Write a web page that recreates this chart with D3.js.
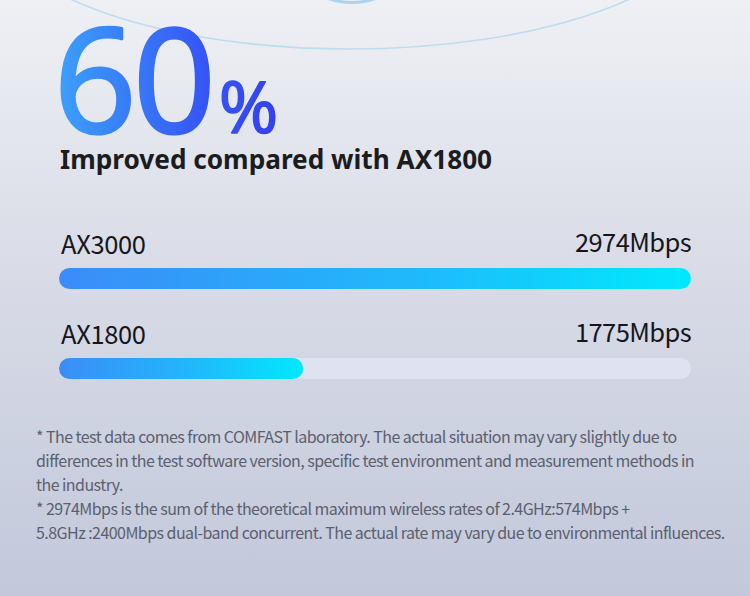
<!DOCTYPE html>
<html>
<head>
<meta charset="utf-8">
<script src="https://cdn.jsdelivr.net/npm/d3@7"></script>
<style>
html,body{margin:0;padding:0;background:#e4e6ee;}
svg{display:block;}
</style>
</head>
<body>
<svg id="chart" width="750" height="596"></svg>
<script>
// ---- data ----
const categories = ["AX3000", "AX1800"];
const speeds = [2974, 1775];
const valueLabels = ["2974Mbps", "1775Mbps"];
const headline = "60";
const headlineUnit = "%";
const subtitle = "Improved compared with AX1800";
const footnotes = [
  "* The test data comes from COMFAST laboratory. The actual situation may vary slightly due to",
  "differences in the test software version, specific test environment and measurement methods in",
  "the industry.",
  "* 2974Mbps is the sum of the theoretical maximum wireless rates of 2.4GHz:574Mbps +",
  "5.8GHz :2400Mbps dual-band concurrent. The actual rate may vary due to environmental influences."
];
const axisDomain = [1020, 2974];

// ---- drawing ----
const W = 750, H = 596;
const svg = d3.select("#chart");
const defs = svg.append("defs");

const bg = defs.append("linearGradient").attr("id","bg").attr("x1",0).attr("y1",0).attr("x2",0).attr("y2",1);
bg.append("stop").attr("offset","0%").attr("stop-color","#eef0f4");
bg.append("stop").attr("offset","45%").attr("stop-color","#d9dce7");
bg.append("stop").attr("offset","100%").attr("stop-color","#c2c8db");
svg.append("rect").attr("width",W).attr("height",H).attr("fill","url(#bg)");

// decorative arcs
svg.append("ellipse").attr("cx",350).attr("cy",-86).attr("rx",360).attr("ry",135)
  .attr("fill","none").attr("stroke","#bfdcee").attr("stroke-width",1.6);
svg.append("ellipse").attr("cx",352).attr("cy",-86).attr("rx",80).attr("ry",88.5)
  .attr("fill","none").attr("stroke","#a9d3ef").attr("stroke-width",3);

// headline gradient
const hg = defs.append("linearGradient").attr("id","hg").attr("gradientUnits","userSpaceOnUse")
  .attr("x1",57).attr("y1",0).attr("x2",280).attr("y2",0);
hg.append("stop").attr("offset","0%").attr("stop-color","#3ca0fb");
hg.append("stop").attr("offset","65%").attr("stop-color","#3557f6");
hg.append("stop").attr("offset","100%").attr("stop-color","#3440ee");

const head = svg.append("text").attr("x",54).attr("y",133)
  .attr("font-family","'Open Sans', 'Noto Sans', sans-serif").attr("fill","url(#hg)")
  .attr("stroke","url(#hg)").attr("stroke-linejoin","round");
head.append("tspan").attr("font-size",144).attr("stroke-width",3.2).attr("letter-spacing",-3).text(headline);
head.append("tspan").attr("font-size",72).attr("stroke-width",1.6).attr("dx",6).text(headlineUnit);

svg.append("text").attr("x",60).attr("y",169)
  .attr("font-family","'Noto Sans', 'Open Sans', sans-serif").attr("font-weight",700)
  .attr("font-size",26.2).attr("fill","#1b1c20").text(subtitle);

// bars
const x = d3.scaleLinear().domain(axisDomain).range([59, 691]).clamp(true);
const y = d3.scaleBand().domain(categories).range([230, 410]).paddingInner(0).paddingOuter(0);
const barH = 21;

const bgGrad = defs.selectAll("linearGradient.bar").data(categories).join("linearGradient")
  .attr("class","bar").attr("id",(d,i)=>"bar"+i).attr("gradientUnits","userSpaceOnUse")
  .attr("x1",x.range()[0]).attr("y1",0).attr("x2",(d,i)=>x(speeds[i])).attr("y2",0);
bgGrad.append("stop").attr("offset","0%").attr("stop-color","#3b8cf8");
bgGrad.append("stop").attr("offset","55%").attr("stop-color","#20b8fb");
bgGrad.append("stop").attr("offset","100%").attr("stop-color","#00e9fd");

const rows = svg.selectAll("g.row").data(categories).join("g").attr("class","row")
  .attr("transform",d=>`translate(0,${y(d)})`);

rows.append("rect").attr("x",x.range()[0]).attr("y",38).attr("height",barH)
  .attr("width",x.range()[1]-x.range()[0]).attr("rx",barH/2).attr("fill","#dfe2f0");
rows.append("rect").attr("x",x.range()[0]).attr("y",38).attr("height",barH)
  .attr("width",(d,i)=>x(speeds[i])-x.range()[0]).attr("rx",barH/2).attr("fill",(d,i)=>`url(#bar${i})`);

rows.append("text").attr("x",61).attr("y",24)
  .attr("font-family","'Noto Sans CJK SC', 'Noto Sans', sans-serif").attr("font-size",25.5)
  .attr("letter-spacing",-0.4)
  .attr("fill","#15161a").text(d=>d);
rows.append("text").attr("x",691).attr("y",22).attr("text-anchor","end")
  .attr("font-family","'Noto Sans CJK SC', 'Noto Sans', sans-serif").attr("font-size",25.5)
  .attr("letter-spacing",-0.6)
  .attr("fill","#15161a").text((d,i)=>valueLabels[i]);

// footnotes
svg.append("g").selectAll("text").data(footnotes).join("text")
  .attr("x",36).attr("y",(d,i)=>443+i*24)
  .attr("font-family","'Noto Sans CJK SC', 'Noto Sans', sans-serif").attr("font-size",16)
  .attr("letter-spacing",-0.55)
  .attr("fill","#5b606e").text(d=>d);
</script>
</body>
</html>
